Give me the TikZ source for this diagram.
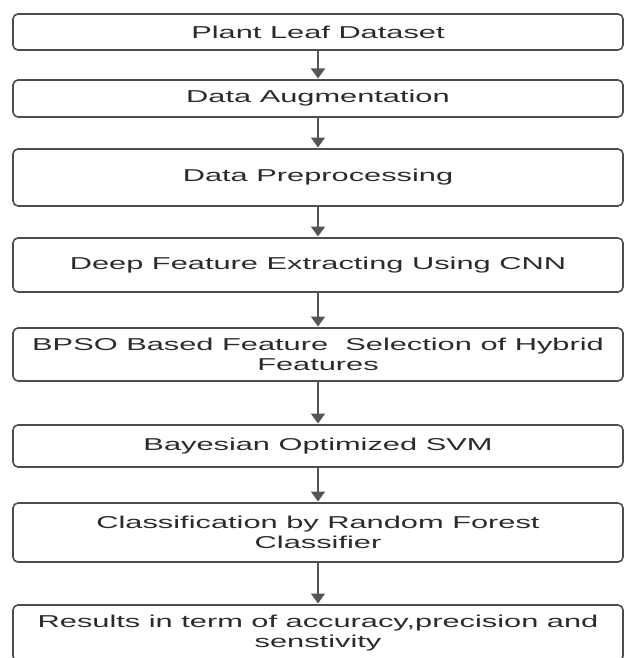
\documentclass[tikz,border=0pt]{standalone}
\usepackage{fontspec}
\setmainfont[FakeStretch=1.79]{Liberation Sans}
\usetikzlibrary{positioning,arrows.meta}

\definecolor{boxline}{HTML}{4D4D4D}
\definecolor{arrowgray}{HTML}{555555}
\definecolor{textgray}{HTML}{2B2B2B}

\begin{document}
\begin{tikzpicture}[
        x=1pt, y=1pt,
        every node/.style={font=\fontsize{17.2}{20}\selectfont, text=textgray},
        process/.style={rectangle, rounded corners=5pt, draw=boxline, line width=1.6pt, fill=white, align=center, minimum width=610pt, inner sep=2pt, outer sep=0pt},
        line/.style={-{Triangle[length=10pt,width=14pt]}, draw=arrowgray, line width=1.8pt, shorten >=1.5pt}
    ]
        \useasboundingbox (0,0) rectangle (625,-658);
        \clip (0,0) rectangle (625,-658);
        \node[process, minimum height=36pt, anchor=north west] (dataset) at (13,-14) {Plant Leaf Dataset};
        \node[process, minimum height=37pt, below=30pt of dataset] (aug) {Data Augmentation};
        \node[process, minimum height=57pt, below=32pt of aug] (prep) {Data Preprocessing};
        \node[process, minimum height=54pt, below=32pt of prep] (cnn) {Deep Feature Extracting Using CNN};
        \node[process, minimum height=53pt, below=36pt of cnn] (bpso) {BPSO Based Feature\ \ Selection of Hybrid \\ Features};
        \node[process, minimum height=42pt, below=44pt of bpso] (svm) {Bayesian Optimized SVM};
        \node[process, minimum height=59pt, below=36pt of svm] (rf) {Classification by Random Forest \\ Classifier};
        \node[process, minimum height=56pt, below=43pt of rf] (results) {Results in term of accuracy,precision and \\ senstivity};
        \draw[line] (dataset) -- (aug);
        \draw[line] (aug) -- (prep);
        \draw[line] (prep) -- (cnn);
        \draw[line] (cnn) -- (bpso);
        \draw[line] (bpso) -- (svm);
        \draw[line] (svm) -- (rf);
        \draw[line] (rf) -- (results);
    \end{tikzpicture}
\end{document}
